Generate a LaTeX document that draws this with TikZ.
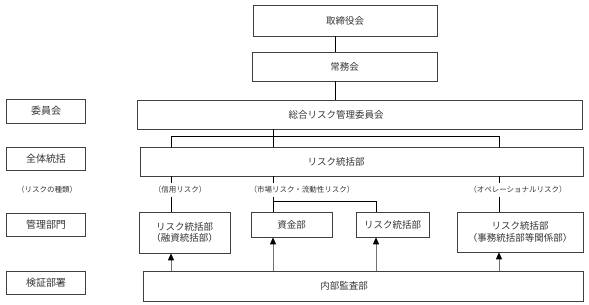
\documentclass[tikz,border=0pt]{standalone}
\usepackage{fontspec}
\setmainfont{Noto Sans CJK JP}
\usepackage{tikz}
\usetikzlibrary{arrows.meta,positioning,calc}

\begin{document}
\begin{tikzpicture}[
            x=1pt, y=-1pt,
            every node/.style={inner sep=0pt, text=black!80},
            box/.style={draw=black!75, line width=0.7pt, minimum height=29pt, font=\fontsize{9.5}{11.5}\selectfont, align=center},
            side/.style={draw=black!75, line width=0.7pt, minimum width=79pt, minimum height=23pt, font=\fontsize{10}{12}\selectfont},
            kind/.style={inner sep=3pt, font=\fontsize{7.5}{8.5}\selectfont},
            link/.style={line width=0.9pt, black},
            audit/.style={line width=0.9pt, black!55, -{Triangle[width=6pt,length=7pt,color=black,fill=black]}}
        ]
            \useasboundingbox (0,0) rectangle (589,305);

% columns and rows
            \coordinate (spine) at (335,0);
            \coordinate (c1) at (171,0);
            \coordinate (c2) at (273,0);
            \coordinate (c3) at (376,0);
            \coordinate (c4) at (499,0);
            \coordinate (brow) at (0,136);
            \coordinate (mrow) at (0,201);

% boxes
            \node[box, minimum width=184pt, minimum height=31pt] (tori) at (345,20.5) {取締役会};
            \node[box, minimum width=185pt] (jomu) at (344.5,66.5) {常務会};
            \node[box, minimum width=445pt] (sogo) at (359.5,114.5) {};
            \node[box, minimum width=443pt] (tokatsu) at (361.5,161.5) {};
            \node[box, minimum width=91pt, minimum height=41pt] (yushi) at (184.5,232.5) {リスク統括部\\（融資統括部）};
            \node[box, minimum width=81pt, minimum height=25pt] (shikin) at (291.5,224.5) {資金部};
            \node[box, minimum width=73pt, minimum height=25pt] (shijo) at (392.5,224.5) {リスク統括部};
            \node[box, minimum width=126pt, minimum height=40pt] (jimu) at (520,232) {リスク統括部\\（事務統括部等関係部）};
            \node[box, minimum width=440pt, minimum height=30pt] (kansa) at (363,286) {};

% box texts
            \node[font=\fontsize{9.5}{11.5}\selectfont] (sogot) at (336,114.5) {総合リスク管理委員会};
            \node[font=\fontsize{9.5}{11.5}\selectfont] (tokatsut) at (336,161.5) {リスク統括部};
            \node[font=\fontsize{9.5}{11.5}\selectfont] (kansat) at (344,286) {内部監査部};

% left column
            \node[side, minimum height=24pt] (iin) at (46,111) {委員会};
            \node[side] (zentai) at (46,158.5) {全体統括};
            \node[side] (kanri) at (46,224.5) {管理部門};
            \node[side] (kensho) at (46,282.5) {検証部署};

% kinds of risk
            \node[kind] (shurui) at (47,190) {（リスクの種類）};
            \node[kind] (shinyo) at (180,190) {（信用リスク）};
            \node[kind] (ichiba) at (302,190) {（市場リスク・流動性リスク）};
            \node[kind] (ope) at (518,190) {（オペレーショナルリスク）};

% connectors
            \draw[link] (tori.south -| spine) -- (jomu.north -| spine);
            \draw[link] (jomu.south -| spine) -- (sogo.north -| spine);
            \draw[link] (sogo.south -| c2) -- (c2 |- tokatsu.north);
            \draw[link] (c1 |- tokatsu.north) -- (c1 |- brow) -- (c4 |- brow) -- (c4 |- tokatsu.north);
            \draw[link] (tokatsu.south -| c1) -- (c1 |- shinyo.north);
            \draw[link] (tokatsu.south -| c2) -- (c2 |- ichiba.north);
            \draw[link] (tokatsu.south -| c4) -- (c4 |- ope.north);
            \draw[link] (c1 |- shinyo.south) -- (c1 |- yushi.north);
            \draw[link] (c2 |- ichiba.south) -- (c2 |- shikin.north);
            \draw[link] (c2 |- mrow) -- (c3 |- mrow) -- (c3 |- shijo.north);
            \draw[link] (c4 |- ope.south) -- (c4 |- jimu.north);

% audit arrows
            \foreach \col/\dept in {c1/yushi, c2/shikin, c3/shijo, c4/jimu}
                \draw[audit] (kansa.north -| \col) -- (\col |- \dept.south);

        \end{tikzpicture}
\end{document}
